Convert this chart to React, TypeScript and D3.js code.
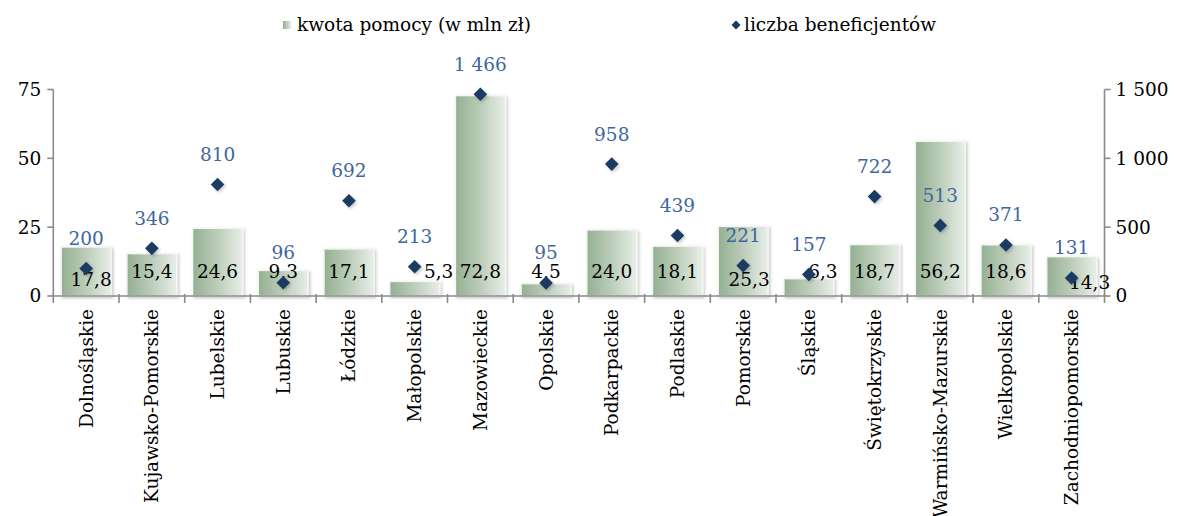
import * as d3 from 'd3';
import { useEffect, useRef } from 'react';

const regions = [
  'Dolnośląskie', 'Kujawsko-Pomorskie', 'Lubelskie', 'Lubuskie', 'Łódzkie', 'Małopolskie',
  'Mazowieckie', 'Opolskie', 'Podkarpackie', 'Podlaskie', 'Pomorskie', 'Śląskie',
  'Świętokrzyskie', 'Warmińsko-Mazurskie', 'Wielkopolskie', 'Zachodniopomorskie',
];
const aidAmount = [17.8, 15.4, 24.6, 9.3, 17.1, 5.3, 72.8, 4.5, 24.0, 18.1, 25.3, 6.3, 18.7, 56.2, 18.6, 14.3];
const beneficiaries = [200, 346, 810, 96, 692, 213, 1466, 95, 958, 439, 221, 157, 722, 513, 371, 131];
const leftTicks = [0, 25, 50, 75];
const rightTicks = [0, 500, 1000, 1500];
const seriesNames = ['kwota pomocy (w mln zł)', 'liczba beneficjentów'];

// where Excel pushed the bar labels aside to dodge a marker
const labelNudge: Record<string, [number, number]> = {
  'Dolnośląskie': [5, 8],
  'Małopolskie': [24, 0],
  'Pomorskie': [6, 8],
  'Śląskie': [14, 0],
  'Zachodniopomorskie': [18, 11],
};

const FONT = '"DejaVu Serif", serif';
const FS = 18.5;

export default function App() {
  const ref = useRef<SVGSVGElement | null>(null);

  useEffect(() => {
    const W = 1178, H = 516;
    const margin = { left: 53.3, right: 1178 - 1104.5, top: 89.5, bottom: 516 - 296 };
    const svg = d3.select(ref.current);
    svg.selectAll('*').remove();

    const pl = d3.formatLocale({ decimal: ',', thousands: '\u00a0', grouping: [3], currency: ['', ' zł'] });
    const fmtBar = pl.format('.1f');
    const fmtInt = pl.format(',d');

    const x = d3.scaleBand<string>().domain(regions).range([margin.left, W - margin.right]).paddingInner(0.24).paddingOuter(0.12);
    const yL = d3.scaleLinear().domain([0, 75]).range([H - margin.bottom, margin.top]);
    const yR = d3.scaleLinear().domain([0, 1500]).range([H - margin.bottom, margin.top]);

    const defs = svg.append('defs');
    const grad = defs.append('linearGradient').attr('id', 'barGrad').attr('x1', 0).attr('x2', 1).attr('y1', 0).attr('y2', 0);
    grad.append('stop').attr('offset', 0).attr('stop-color', '#93b091');
    grad.append('stop').attr('offset', 0.5).attr('stop-color', '#bccdba');
    grad.append('stop').attr('offset', 1).attr('stop-color', '#e8eee7');
    const sh = defs.append('filter').attr('id', 'shadow').attr('x', '-20%').attr('y', '-20%').attr('width', '140%').attr('height', '140%');
    sh.append('feDropShadow').attr('dx', 1.5).attr('dy', 1.5).attr('stdDeviation', 1.5).attr('flood-color', '#000').attr('flood-opacity', 0.22);

    const y0 = yL(0);

    // bars
    svg.append('g').selectAll('rect').data(regions).join('rect')
      .attr('x', d => x(d)!)
      .attr('y', (d, i) => yL(aidAmount[i]))
      .attr('width', x.bandwidth())
      .attr('height', (d, i) => y0 - yL(aidAmount[i]))
      .attr('fill', 'url(#barGrad)')
      .attr('stroke', '#f4f6f3')
      .attr('stroke-width', 1.5)
      .attr('filter', 'url(#shadow)');

    // axes
    const axisColor = '#8a8a8a';
    const axes = svg.append('g').attr('stroke', axisColor).attr('stroke-width', 1.6);
    axes.append('line').attr('x1', margin.left).attr('x2', margin.left).attr('y1', yL(75)).attr('y2', y0);
    axes.append('line').attr('x1', W - margin.right).attr('x2', W - margin.right).attr('y1', yR(1500)).attr('y2', y0);
    axes.append('line').attr('x1', margin.left).attr('x2', W - margin.right).attr('y1', y0).attr('y2', y0);
    axes.selectAll('.tl').data(leftTicks).join('line')
      .attr('x1', margin.left - 6).attr('x2', margin.left).attr('y1', d => yL(d)).attr('y2', d => yL(d));
    axes.selectAll('.tr').data(rightTicks).join('line')
      .attr('x1', W - margin.right).attr('x2', W - margin.right + 6).attr('y1', d => yR(d)).attr('y2', d => yR(d));
    const bounds = d3.range(regions.length + 1).map(i => margin.left + i * x.step());
    axes.selectAll('.tx').data(bounds).join('line')
      .attr('x1', d => d).attr('x2', d => d).attr('y1', y0 - 2).attr('y2', y0 + 7);

    const txt = svg.append('g').attr('font-family', FONT).attr('font-size', FS).attr('fill', '#000');
    txt.selectAll('.ll').data(leftTicks).join('text')
      .attr('x', margin.left - 12).attr('y', d => yL(d)).attr('dy', '0.35em').attr('text-anchor', 'end')
      .text(d => fmtInt(d));
    txt.selectAll('.rl').data(rightTicks).join('text')
      .attr('x', W - margin.right + 11).attr('y', d => yR(d)).attr('dy', '0.35em').attr('text-anchor', 'start')
      .text(d => fmtInt(d));

    // category labels
    txt.selectAll('.cl').data(regions).join('text')
      .attr('transform', d => `translate(${x(d)! + x.bandwidth() / 2},${y0 + 13}) rotate(-90)`)
      .attr('text-anchor', 'end').attr('dy', '0.35em')
      .text(d => d);

    // bar labels
    txt.selectAll('.bl').data(regions).join('text')
      .attr('x', d => x(d)! + x.bandwidth() / 2 + (labelNudge[d]?.[0] ?? 0))
      .attr('y', d => y0 - 24 + (labelNudge[d]?.[1] ?? 0))
      .attr('dy', '0.35em').attr('text-anchor', 'middle')
      .text((d, i) => fmtBar(aidAmount[i]));

    // diamonds
    const diamond = (r: number) => `M0,${-r}L${r},0L0,${r}L${-r},0Z`;
    svg.append('g').selectAll('path').data(regions).join('path')
      .attr('d', diamond(6.8))
      .attr('transform', (d, i) => `translate(${x(d)! + x.bandwidth() / 2},${yR(beneficiaries[i])})`)
      .attr('fill', '#1b3a63')
      .attr('filter', 'url(#shadow)');

    svg.append('g').attr('font-family', FONT).attr('font-size', FS).attr('fill', '#40669e')
      .selectAll('text').data(regions).join('text')
      .attr('x', d => x(d)! + x.bandwidth() / 2)
      .attr('y', (d, i) => yR(beneficiaries[i]) - 30)
      .attr('dy', '0.35em').attr('text-anchor', 'middle')
      .text((d, i) => fmtInt(beneficiaries[i]));

    // legend
    const lg = svg.append('g').attr('font-family', FONT).attr('font-size', FS).attr('fill', '#000');
    lg.append('rect').attr('x', 283).attr('y', 21).attr('width', 8).attr('height', 8).attr('fill', 'url(#barGrad)');
    lg.append('text').attr('x', 297).attr('y', 25).attr('dy', '0.35em').text(seriesNames[0]);
    lg.append('path').attr('d', diamond(4.5)).attr('transform', 'translate(736,25)').attr('fill', '#1b3a63');
    lg.append('text').attr('x', 744).attr('y', 25).attr('dy', '0.35em').text(seriesNames[1]);
  }, []);

  return (
    <>
      <style>{'body{margin:0}'}</style>
      <svg ref={ref} width={1178} height={516} style={{ display: 'block', background: '#fff' }} />
    </>
  );
}
